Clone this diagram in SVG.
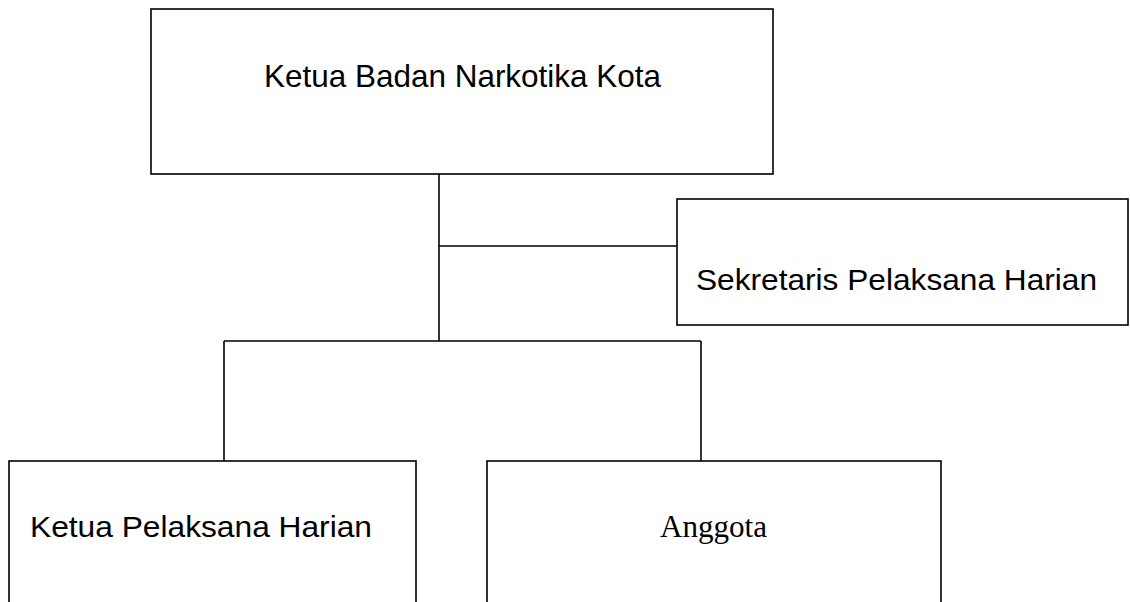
<svg xmlns="http://www.w3.org/2000/svg" width="1130" height="602" viewBox="0 0 1130 602">
<style>
.box{fill:#fff;stroke:#000;stroke-width:1.6}
.ln{fill:none;stroke:#000;stroke-width:1.6}
.sans{font-family:"Liberation Sans",Arial,sans-serif;fill:#000}
.serif{font-family:"Liberation Serif","Times New Roman",serif;fill:#000}
</style>
<rect width="1130" height="602" fill="#fff"/>
<g id="connectors">
<path class="ln" d="M439,174 V341"/>
<path class="ln" d="M439,246 H677"/>
<path class="ln" d="M224,341 H701"/>
<path class="ln" d="M224,341 V461"/>
<path class="ln" d="M701,341 V461"/>
</g>
<g id="node-ketua-bnk">
<rect class="box" x="151" y="9" width="622" height="165"/>
<text class="sans" x="264" y="87" font-size="32" textLength="397" lengthAdjust="spacingAndGlyphs">Ketua Badan Narkotika Kota</text>
</g>
<g id="node-sekretaris">
<rect class="box" x="677" y="199" width="451" height="126"/>
<text class="sans" x="696" y="290" font-size="30" textLength="401" lengthAdjust="spacingAndGlyphs">Sekretaris Pelaksana Harian</text>
</g>
<g id="node-ketua-pelaksana">
<rect class="box" x="9" y="461" width="407" height="160"/>
<text class="sans" x="30" y="537" font-size="29" textLength="342" lengthAdjust="spacingAndGlyphs">Ketua Pelaksana Harian</text>
</g>
<g id="node-anggota">
<rect class="box" x="487" y="461" width="454" height="160"/>
<text class="serif" x="660" y="537" font-size="30.5" textLength="107" lengthAdjust="spacingAndGlyphs">Anggota</text>
</g>
</svg>
